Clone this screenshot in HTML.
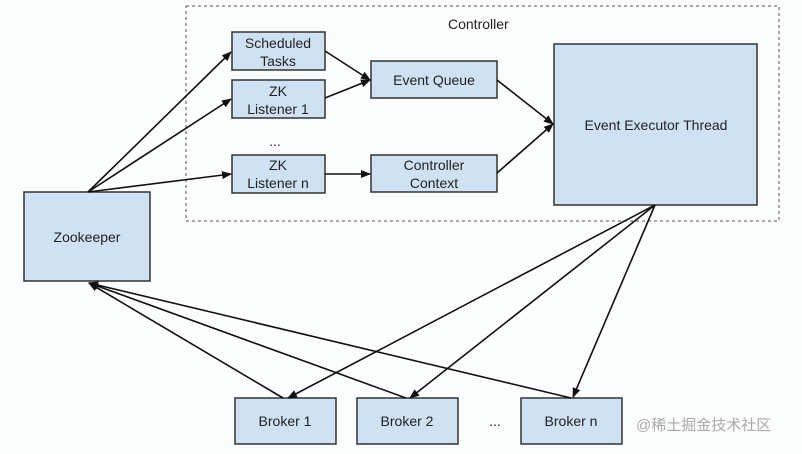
<!DOCTYPE html><html><head><style>body{margin:0;background:#fbfcfc}svg{display:block}text{font-family:"Liberation Sans",sans-serif;font-size:14px;fill:#222}</style></head><body>
<svg width="802" height="454" viewBox="0 0 802 454">
<defs><marker id="a" markerWidth="10" markerHeight="8" refX="9" refY="4" orient="auto" markerUnits="userSpaceOnUse"><path d="M0,0L10,4L0,8z" fill="#111"/></marker></defs>
<rect x="186" y="6" width="593" height="215" fill="none" stroke="#555" stroke-dasharray="3,3"/>
<text x="448" y="29">Controller</text>
<g fill="#cfe2f3" stroke="#333" stroke-width="1.5">
<rect x="232" y="32" width="93" height="38"/><rect x="232" y="80" width="93" height="38"/><rect x="232" y="155" width="93" height="38"/>
<rect x="371" y="61" width="126" height="37"/><rect x="371" y="155" width="126" height="37"/>
<rect x="554" y="44" width="203" height="161"/><rect x="24" y="192" width="126" height="89"/>
<rect x="235" y="398" width="101" height="46"/><rect x="357" y="398" width="101" height="46"/><rect x="521" y="398" width="101" height="46"/>
</g>
<g text-anchor="middle">
<text x="278" y="48">Scheduled</text><text x="278" y="66">Tasks</text>
<text x="278" y="96">ZK</text><text x="278" y="114">Listener 1</text>
<text x="275" y="146">...</text>
<text x="278" y="170">ZK</text><text x="278" y="188">Listener n</text>
<text x="434" y="85">Event Queue</text>
<text x="434" y="170">Controller</text><text x="434" y="188">Context</text>
<text x="656" y="130">Event Executor Thread</text>
<text x="87" y="242">Zookeeper</text>
<text x="285" y="426">Broker 1</text><text x="407" y="426">Broker 2</text><text x="571" y="426">Broker n</text>
<text x="495" y="426">...</text>
</g>
<text x="636" y="430" style="font-family:'Liberation Sans','Noto Sans CJK SC',sans-serif;font-size:15px;fill:#aaa">@稀土掘金技术社区</text>
<g stroke="#111" stroke-width="1.6" fill="none" marker-end="url(#a)">
<line x1="88" y1="192" x2="231" y2="52"/><line x1="88" y1="192" x2="231" y2="99"/><line x1="88" y1="192" x2="231" y2="174"/>
<line x1="325" y1="51" x2="370" y2="80"/><line x1="325" y1="98" x2="370" y2="80"/><line x1="325" y1="174" x2="370" y2="174"/>
<line x1="497" y1="80" x2="553" y2="124"/><line x1="497" y1="173" x2="553" y2="124"/>
<line x1="655" y1="205" x2="288" y2="398"/><line x1="655" y1="205" x2="410" y2="398"/><line x1="655" y1="205" x2="573" y2="397"/>
<line x1="283" y1="398" x2="89" y2="283"/><line x1="406" y1="398" x2="89" y2="283"/><line x1="571" y1="398" x2="89" y2="283"/>
</g>
</svg></body></html>
